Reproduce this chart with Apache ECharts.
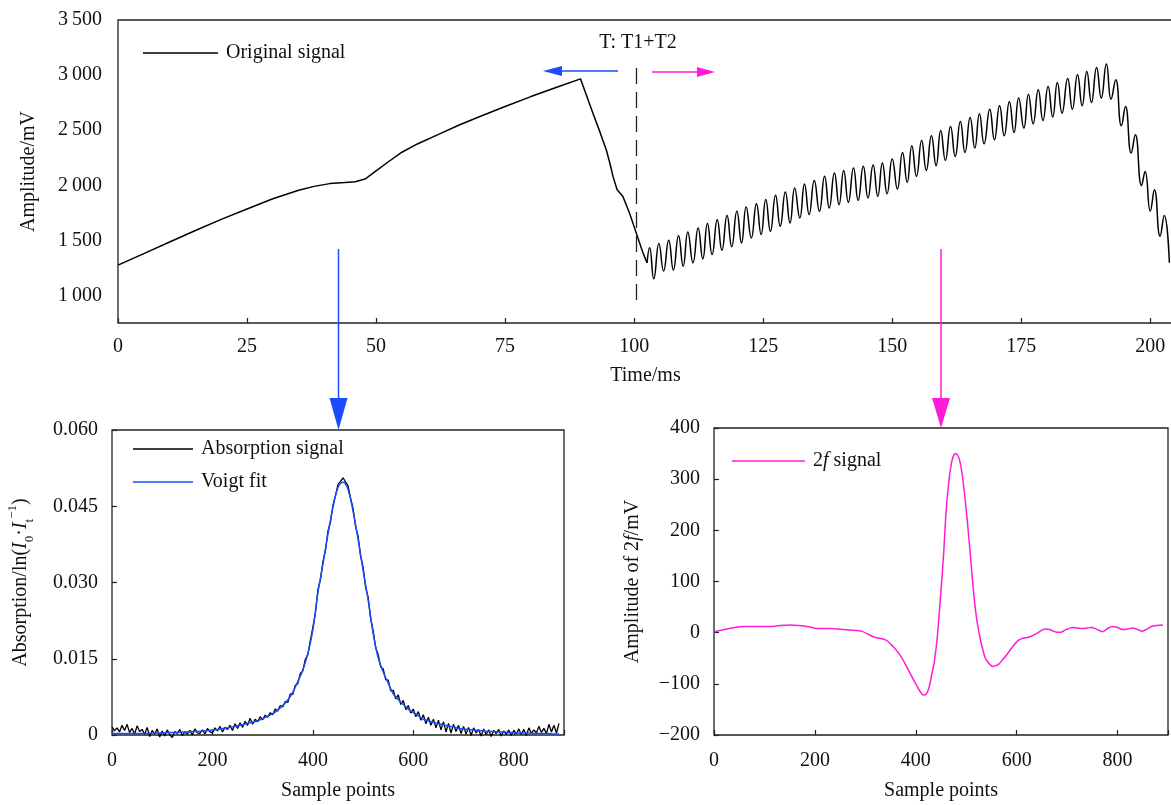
<!DOCTYPE html>
<html>
<head>
<meta charset="utf-8">
<title>Original signal, absorption and 2f signal</title>
<script src="https://cdn.jsdelivr.net/npm/echarts@6/dist/echarts.min.js"></script>
<style>
  html, body { margin: 0; padding: 0; background: #fff; }
  #main { width: 1171px; height: 805px; }
</style>
</head>
<body>
<div id="main"></div>
<script>
// ---- Original signal: ramp, then the modulated ramp (Time/ms, Amplitude/mV) ----
const rampTime = [0, 5, 10, 15, 20, 25, 30, 35, 38, 41, 44, 46, 48, 50, 52, 55, 58, 62, 66, 70, 75, 80, 85, 89.6,
  92.0, 93.4, 94.6, 95.3, 95.9, 96.7, 97.8, 99.1, 100.4, 101.7, 102.5];
const rampAmp = [1275, 1380, 1485, 1590, 1690, 1785, 1878, 1955, 1990, 2015, 2025, 2032, 2060, 2130, 2200, 2300, 2375, 2460, 2545, 2622, 2715, 2805, 2890, 2966,
  2655, 2480, 2322, 2200, 2081, 1960, 1900, 1749, 1568, 1387, 1296];

const oscTime = [102.5, 103.0, 103.8, 104.8, 105.7, 106.7, 107.6, 108.6, 109.5, 110.4, 111.4, 112.4, 113.3, 114.2, 115.1, 116.1,
  117.0, 118.0, 118.9, 119.9, 120.8, 121.7, 122.7, 123.7, 124.6, 125.5, 126.4, 127.4, 128.3, 129.3, 130.2, 131.1,
  132.1, 133.0, 133.9, 134.9, 135.9, 136.9, 137.8, 138.8, 139.7, 140.6, 141.5, 142.5, 143.4, 144.4, 145.3, 146.3,
  147.2, 148.1, 149.0, 150.0, 151.0, 152.0, 152.9, 153.8, 154.7, 155.7, 156.6, 157.6, 158.5, 159.4, 160.3, 161.3,
  162.2, 163.2, 164.1, 165.1, 166.0, 166.9, 167.8, 168.9, 169.8, 170.8, 171.7, 172.7, 173.6, 174.5, 175.5, 176.4,
  177.3, 178.3, 179.2, 180.2, 181.1, 182.0, 182.9, 184.0, 184.9, 185.9, 186.8, 187.7, 188.6, 189.6, 190.5, 191.5,
  192.4, 193.3, 194.4, 195.2, 196.3, 197.1, 198.3, 199.0, 200.0, 200.8, 201.9, 202.7, 203.7];
const oscAmp = [1296, 1432, 1151, 1471, 1221, 1501, 1230, 1543, 1266, 1577, 1296, 1613, 1332, 1652, 1371, 1688,
  1410, 1725, 1441, 1764, 1477, 1803, 1522, 1833, 1553, 1870, 1583, 1909, 1628, 1939, 1658, 1975,
  1704, 2012, 1734, 2044, 1764, 2081, 1794, 2111, 1824, 2135, 1845, 2157, 1863, 2172, 1885, 2184,
  1900, 2202, 1924, 2238, 1967, 2298, 2027, 2359, 2081, 2407, 2135, 2449, 2178, 2497, 2226, 2533,
  2262, 2579, 2298, 2615, 2338, 2648, 2377, 2691, 2413, 2721, 2449, 2757, 2479, 2793, 2519, 2827,
  2558, 2866, 2588, 2896, 2619, 2932, 2655, 2968, 2691, 3002, 2721, 3032, 2751, 3068, 2791, 3101,
  2782, 2957, 2540, 2715, 2292, 2458, 1996, 2126, 1764, 1960, 1537, 1725, 1296];

// ---- Absorption signal (every 5 sample points) and Voigt fit (every 10) ----
const absStep = 5;
const absValues = [
  .0016, .0008, .0014, .0006, .0019, .0009, .0021, .0005, .0013, .0002, .0018, .0007, .0011, .0001, .0015, -.0003, .0009, .0002, .0012, -.0004,
  .0008, -.0002, .0010, .0001, -.0005, .0007, .0003, .0011, -.0001, .0006, .0002, .0009, .0000, .0012, .0004, .0003, .0010, .0002, .0013, .0006,
  .0004, .0014, .0008, .0017, .0006, .0015, .0011, .0019, .0009, .0022, .0013, .0024, .0015, .0027, .0019, .0033, .0021, .0031, .0026, .0036,
  .0030, .0039, .0035, .0044, .0040, .0051, .0047, .0058, .0055, .0066, .0064, .0081, .0080, .0098, .0101, .0121, .0126, .0149, .0158, .0186,
  .0212, .0240, .0286, .0305, .0341, .0363, .0401, .0419, .0452, .0471, .0493, .0499, .0506, .0498, .0490, .0466, .0446, .0410, .0391, .0352,
  .0330, .0291, .0271, .0229, .0205, .0172, .0158, .0134, .0130, .0109, .0108, .0087, .0088, .0071, .0079, .0060, .0068, .0050, .0058, .0043,
  .0051, .0036, .0046, .0029, .0040, .0022, .0035, .0019, .0031, .0014, .0029, .0010, .0026, .0006, .0023, .0004, .0021, .0007, .0019, .0003,
  .0017, .0002, .0015, -.0001, .0014, .0004, .0011, -.0002, .0012, .0001, .0010, -.0003, .0009, .0003, .0011, -.0002, .0008, .0001, .0010, -.0001,
  .0009, .0002, .0012, .0001, .0011, -.0001, .0014, .0003, .0010, .0004, .0017, .0005, .0013, .0003, .0021, .0006, .0019, .0004, .0023
];
const fitStep = 10;
const fitValues = [
  .0003, .0003, .0003, .0003, .0003, .0003, .0003, .0003, .0004, .0004,
  .0004, .0005, .0005, .0005, .0006, .0006, .0007, .0007, .0008, .0009,
  .0010, .0011, .0013, .0014, .0016, .0018, .0020, .0023, .0025, .0028,
  .0032, .0037, .0042, .0049, .0058, .0069, .0084, .0105, .0128, .0160,
  .0207, .0280, .0336, .0395, .0448, .0487, .0497, .0483, .0440, .0385,
  .0324, .0266, .0200, .0152, .0124, .0102, .0081, .0070, .0060, .0051,
  .0044, .0038, .0031, .0028, .0025, .0022, .0020, .0017, .0016, .0013,
  .0012, .0011, .0010, .0009, .0008, .0007, .0007, .0006, .0006, .0005,
  .0005, .0004, .0004, .0004, .0003, .0003, .0003, .0003, .0002, .0002
];

// ---- 2f signal (Sample points, Amplitude of 2f/mV) ----
const twoFPoints = [0, 20, 41, 60, 86, 110, 131, 150, 168, 190, 206, 230, 258, 292, 318, 340, 355, 366, 378, 390, 400, 408, 415,
  420, 426, 432, 437, 443, 449, 455, 460, 466, 471, 475, 478, 482, 486, 490, 493, 499, 505, 510, 516, 521, 527, 532, 538,
  545, 553, 560, 565, 572, 579, 590, 602, 612, 624, 639, 650, 658, 665, 673, 680, 688, 698, 710, 720, 733, 740, 748, 758,
  770, 780, 789, 800, 811, 820, 830, 840, 849, 858, 867, 878, 890];
const twoFValues = [2, 6, 10, 12, 12, 12, 14, 15, 14, 11, 8, 8, 6, 3, -9, -14, -27, -40, -59, -82, -100, -114, -122,
  -121, -108, -80, -55, -5, 70, 150, 235, 300, 333, 346, 350, 348, 340, 322, 302, 250, 188, 130, 65, 25, -8, -30, -50,
  -60, -66, -64, -61, -53, -45, -30, -16, -11, -9, -2, 5, 7, 6, 3, 1, 1, 6, 10, 9, 8, 9, 10, 7,
  2, 8, 12, 10, 6, 7, 9, 6, 3, 7, 12, 14, 15];

// ---- tick values shown on the axes ----
const timeTicks = [0, 25, 50, 75, 100, 125, 150, 175, 200];
const ampTicks = [1000, 1500, 2000, 2500, 3000, 3500];
const sampleTicks = [0, 200, 400, 600, 800];

// ---- helpers ----
const zip = (xs, ys) => xs.map((x, i) => [x, ys[i]]);
const stepped = (vals, step) => vals.map((v, i) => [i * step, v]);

const FONT = '"Liberation Serif", "Times New Roman", serif';
const INK = '#111';
const FRAME = '#222';
const BLUE = '#1a4cff';
const MAGENTA = '#ff1bd8';

const labelStyle = (margin) => ({ fontFamily: FONT, fontSize: 20, color: INK, margin });
const tickStyle = { show: true, inside: true, length: 5, lineStyle: { color: FRAME, width: 1.2 } };
const nameStyle = { fontFamily: FONT, fontSize: 20, color: INK };
const gridBox = { show: true, borderColor: FRAME, borderWidth: 1.3, backgroundColor: 'transparent', outerBoundsMode: 'none', containLabel: false };
const noLine = { show: false, onZero: false };

const thousands = (v) => v >= 1000 ? Math.floor(v / 1000) + '\u2009' + String(v % 1000).padStart(3, '0') : String(v);
const legendText = { fontFamily: FONT, fontSize: 20, color: INK, padding: [0, 0, 0, 3] };

const chart = echarts.init(document.getElementById('main'), null, { renderer: 'canvas' });

chart.setOption({
  animation: false,
  backgroundColor: '#fff',
  textStyle: { fontFamily: FONT },
  grid: [
    Object.assign({ left: 118, top: 20, width: 1055, height: 303 }, gridBox),
    Object.assign({ left: 112, top: 430, width: 452, height: 305 }, gridBox),
    Object.assign({ left: 714, top: 428, width: 454, height: 307 }, gridBox)
  ],
  xAxis: [
    {
      gridIndex: 0, type: 'value', min: 0, max: 204.4, interval: 25,
      axisLine: noLine, axisTick: tickStyle, splitLine: { show: false },
      axisLabel: Object.assign(labelStyle(14), { formatter: (v) => timeTicks.includes(v) ? String(v) : '' }),
      name: 'Time/ms', nameLocation: 'middle', nameGap: 43, nameTextStyle: nameStyle
    },
    {
      gridIndex: 1, type: 'value', min: 0, max: 900, interval: 200,
      axisLine: noLine, axisTick: tickStyle, splitLine: { show: false },
      axisLabel: Object.assign(labelStyle(16), { formatter: (v) => sampleTicks.includes(v) ? String(v) : '' }),
      name: 'Sample points', nameLocation: 'middle', nameGap: 46, nameTextStyle: nameStyle
    },
    {
      gridIndex: 2, type: 'value', min: 0, max: 900, interval: 200,
      axisLine: noLine, axisTick: tickStyle, splitLine: { show: false },
      axisLabel: Object.assign(labelStyle(16), { formatter: (v) => sampleTicks.includes(v) ? String(v) : '' }),
      name: 'Sample points', nameLocation: 'middle', nameGap: 46, nameTextStyle: nameStyle
    }
  ],
  yAxis: [
    {
      gridIndex: 0, type: 'value', min: 750, max: 3500, interval: 250,
      axisLine: noLine, axisTick: { show: false }, splitLine: { show: false },
      axisLabel: Object.assign(labelStyle(16), { formatter: (v) => ampTicks.includes(v) ? thousands(v) : '' }),
      name: 'Amplitude/mV', nameLocation: 'middle', nameGap: 79, nameTextStyle: nameStyle
    },
    {
      gridIndex: 1, type: 'value', min: 0, max: 0.06, interval: 0.015,
      axisLine: noLine, axisTick: tickStyle, splitLine: { show: false },
      axisLabel: Object.assign(labelStyle(14), { formatter: (v) => v === 0 ? '0' : v.toFixed(3) }),
      name: '{n|Absorption/ln(}{i|I}{sb|0}{n|\u00b7}{i|I}{sb|t}{sp|\u22121}{n|)}',
      nameLocation: 'middle', nameGap: 76,
      nameTextStyle: Object.assign({}, nameStyle, {
        rich: {
          n: { fontFamily: FONT, fontSize: 20, color: INK, lineHeight: 30, verticalAlign: 'middle' },
          i: { fontFamily: FONT, fontSize: 20, color: INK, fontStyle: 'italic', lineHeight: 30, verticalAlign: 'middle' },
          sb: { fontFamily: FONT, fontSize: 13, color: INK, lineHeight: 16, verticalAlign: 'bottom' },
          sp: { fontFamily: FONT, fontSize: 13, color: INK, lineHeight: 16, verticalAlign: 'top' }
        }
      })
    },
    {
      gridIndex: 2, type: 'value', min: -200, max: 400, interval: 100,
      axisLine: noLine, axisTick: tickStyle, splitLine: { show: false },
      axisLabel: Object.assign(labelStyle(14), { formatter: (v) => v < 0 ? '\u2212' + (-v) : String(v) }),
      name: '{n|Amplitude of 2}{i|f}{n|/mV}',
      nameLocation: 'middle', nameGap: 71,
      nameTextStyle: Object.assign({}, nameStyle, {
        rich: {
          n: { fontFamily: FONT, fontSize: 20, color: INK },
          i: { fontFamily: FONT, fontSize: 20, color: INK, fontStyle: 'italic' }
        }
      })
    }
  ],
  legend: [
    {
      left: 138, top: 38, icon: 'rect', itemWidth: 75, itemHeight: 1.5, selectedMode: false,
      data: ['Original signal'], textStyle: legendText
    },
    {
      left: 128, top: 434, orient: 'vertical', icon: 'rect', itemGap: 13, itemWidth: 60, itemHeight: 1.5, selectedMode: false,
      data: ['Absorption signal', 'Voigt fit'], textStyle: legendText
    },
    {
      left: 727, top: 446, icon: 'rect', itemWidth: 73, itemHeight: 1.5, selectedMode: false,
      data: ['2f signal'],
      formatter: () => '{a|2}{i|f}{a| signal}',
      textStyle: Object.assign({}, legendText, {
        rich: {
          a: { fontFamily: FONT, fontSize: 20, color: INK },
          i: { fontFamily: FONT, fontSize: 20, color: INK, fontStyle: 'italic' }
        }
      })
    }
  ],
  series: [
    {
      name: 'Original signal', type: 'line', xAxisIndex: 0, yAxisIndex: 0,
      data: zip(rampTime, rampAmp), symbol: 'none', smooth: false,
      lineStyle: { color: '#000', width: 1.5 }, itemStyle: { color: '#000' }
    },
    {
      name: 'Original signal', type: 'line', xAxisIndex: 0, yAxisIndex: 0,
      data: zip(oscTime, oscAmp), symbol: 'none', smooth: 0.5,
      lineStyle: { color: '#000', width: 1.5 }, itemStyle: { color: '#000' },
      markLine: {
        silent: true, symbol: ['none', 'none'], label: { show: false },
        lineStyle: { type: [16, 8], color: FRAME, width: 1.3 },
        data: [[{ coord: [100.4, 3065] }, { coord: [100.4, 937] }]]
      }
    },
    {
      name: 'Absorption signal', type: 'line', xAxisIndex: 1, yAxisIndex: 1,
      data: stepped(absValues, absStep), symbol: 'none', clip: false,
      lineStyle: { color: '#000', width: 1.3 }, itemStyle: { color: '#000' }
    },
    {
      name: 'Voigt fit', type: 'line', xAxisIndex: 1, yAxisIndex: 1,
      data: stepped(fitValues, fitStep), symbol: 'none', smooth: 0.4,
      lineStyle: { color: BLUE, width: 1.5 }, itemStyle: { color: BLUE }
    },
    {
      name: '2f signal', type: 'line', xAxisIndex: 2, yAxisIndex: 2,
      data: zip(twoFPoints, twoFValues), symbol: 'none', smooth: 0.3,
      lineStyle: { color: MAGENTA, width: 1.5 }, itemStyle: { color: MAGENTA }
    }
  ],
  graphic: [
    { type: 'text', x: 638, y: 43, style: { text: 'T: T1+T2', font: '20px "Liberation Serif"', fill: INK, align: 'center', verticalAlign: 'middle' } },
    // split arrows around the T1/T2 boundary
    { type: 'line', shape: { x1: 618, y1: 71, x2: 558, y2: 71 }, style: { stroke: BLUE, lineWidth: 1.5 } },
    { type: 'polygon', shape: { points: [[543, 71], [562, 66], [562, 76]] }, style: { fill: BLUE } },
    { type: 'line', shape: { x1: 652, y1: 72, x2: 700, y2: 72 }, style: { stroke: MAGENTA, lineWidth: 1.5 } },
    { type: 'polygon', shape: { points: [[715, 72], [697, 67], [697, 77]] }, style: { fill: MAGENTA } },
    // connectors from the top trace down to the two detail panels
    { type: 'line', shape: { x1: 338.5, y1: 249, x2: 338.5, y2: 400 }, style: { stroke: BLUE, lineWidth: 1.5 } },
    { type: 'polygon', shape: { points: [[329.5, 398], [347.5, 398], [338.5, 430]] }, style: { fill: BLUE } },
    { type: 'line', shape: { x1: 941, y1: 249, x2: 941, y2: 400 }, style: { stroke: MAGENTA, lineWidth: 1.5 } },
    { type: 'polygon', shape: { points: [[932, 398], [950, 398], [941, 428]] }, style: { fill: MAGENTA } }
  ]
});
</script>
</body>
</html>
